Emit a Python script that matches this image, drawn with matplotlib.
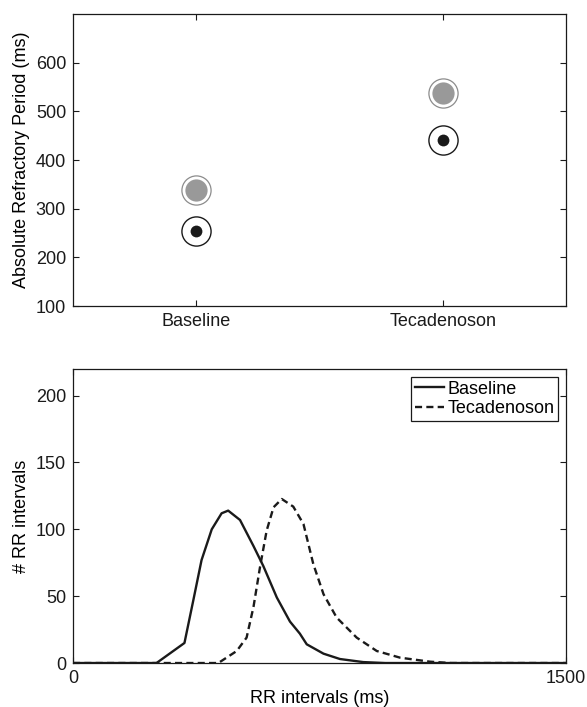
import numpy as np
import matplotlib
matplotlib.use('Agg')
import matplotlib.pyplot as plt

plt.rcParams['font.family'] = ['Liberation Sans', 'DejaVu Sans']
plt.rcParams['font.size'] = 13

# ── Top panel: absolute refractory period ──
groups = ['Baseline', 'Tecadenoson']
arp_gray = [338, 537]
arp_black = [254, 442]

# ── Bottom panel: RR interval histograms ──
rr_base_x = [0, 254, 339, 366, 391, 422, 452, 472, 508, 549, 579, 620, 660,
             690, 711, 762, 812, 883, 950, 1500]
rr_base_y = [0, 0, 15, 47, 77, 100, 112, 114, 107, 87.5, 72.5, 49, 31,
             22, 14, 7, 3, 0.7, 0, 0]
rr_teca_x = [0, 442, 498, 528, 549, 569, 589, 610, 635, 670, 701, 731, 762,
             802, 863, 924, 995, 1086, 1150, 1500]
rr_teca_y = [0, 0, 9, 19, 42, 72, 99, 116.5, 122.7, 117, 104, 74, 51.5,
             34, 19, 9, 4, 1, 0, 0]

fig = plt.figure(figsize=(5.87, 7.07), dpi=100)
ax1 = fig.add_axes([0.1244, 0.567, 0.840, 0.413])
ax2 = fig.add_axes([0.1244, 0.0622, 0.840, 0.416])

pos = np.arange(1, len(groups) + 1)
ax1.plot(pos, arp_gray, 'o', ms=21, mfc='none', mec='#8c8c8c', mew=0.9)
ax1.plot(pos, arp_gray, 'o', ms=16, mfc='#999999', mec='none')
ax1.plot(pos, arp_black, 'o', ms=21, mfc='none', mec='#1a1a1a', mew=1.0)
ax1.plot(pos, arp_black, 'o', ms=8.5, mfc='#1a1a1a', mec='none')
ax1.set_xlim(0.5, 2.5)
ax1.set_ylim(100, 700)
ax1.set_xticks(pos)
ax1.set_xticklabels(groups)
ax1.set_yticks([100, 200, 300, 400, 500, 600])
ax1.set_ylabel('Absolute Refractory Period (ms)', labelpad=4)

ax2.plot(rr_base_x, rr_base_y, '-', color='#1a1a1a', lw=1.7, label='Baseline')
ax2.plot(rr_teca_x, rr_teca_y, '--', color='#1a1a1a', lw=1.7,
         dashes=(3, 1.8), label='Tecadenoson')
ax2.set_xlim(0, 1500)
ax2.set_ylim(0, 220)
ax2.set_xticks([0, 1500])
ax2.set_yticks([0, 50, 100, 150, 200])
ax2.set_xlabel('RR intervals (ms)', labelpad=2)
ax2.set_ylabel('# RR intervals', labelpad=4)
leg = ax2.legend(loc='upper right', fancybox=False, edgecolor='#1a1a1a',
                 handlelength=1.6, handletextpad=0.2, borderpad=0.2,
                 labelspacing=0.15, borderaxespad=0.45, framealpha=1)
leg.get_frame().set_linewidth(0.9)

for ax in (ax1, ax2):
    ax.tick_params(direction='in', top=True, right=True, length=4, pad=5,
                   width=0.8, colors='#1a1a1a', labelcolor='#1a1a1a')
    for s in ax.spines.values():
        s.set_linewidth(0.9)
        s.set_color('#1a1a1a')

fig.savefig('out.png', dpi=100)
